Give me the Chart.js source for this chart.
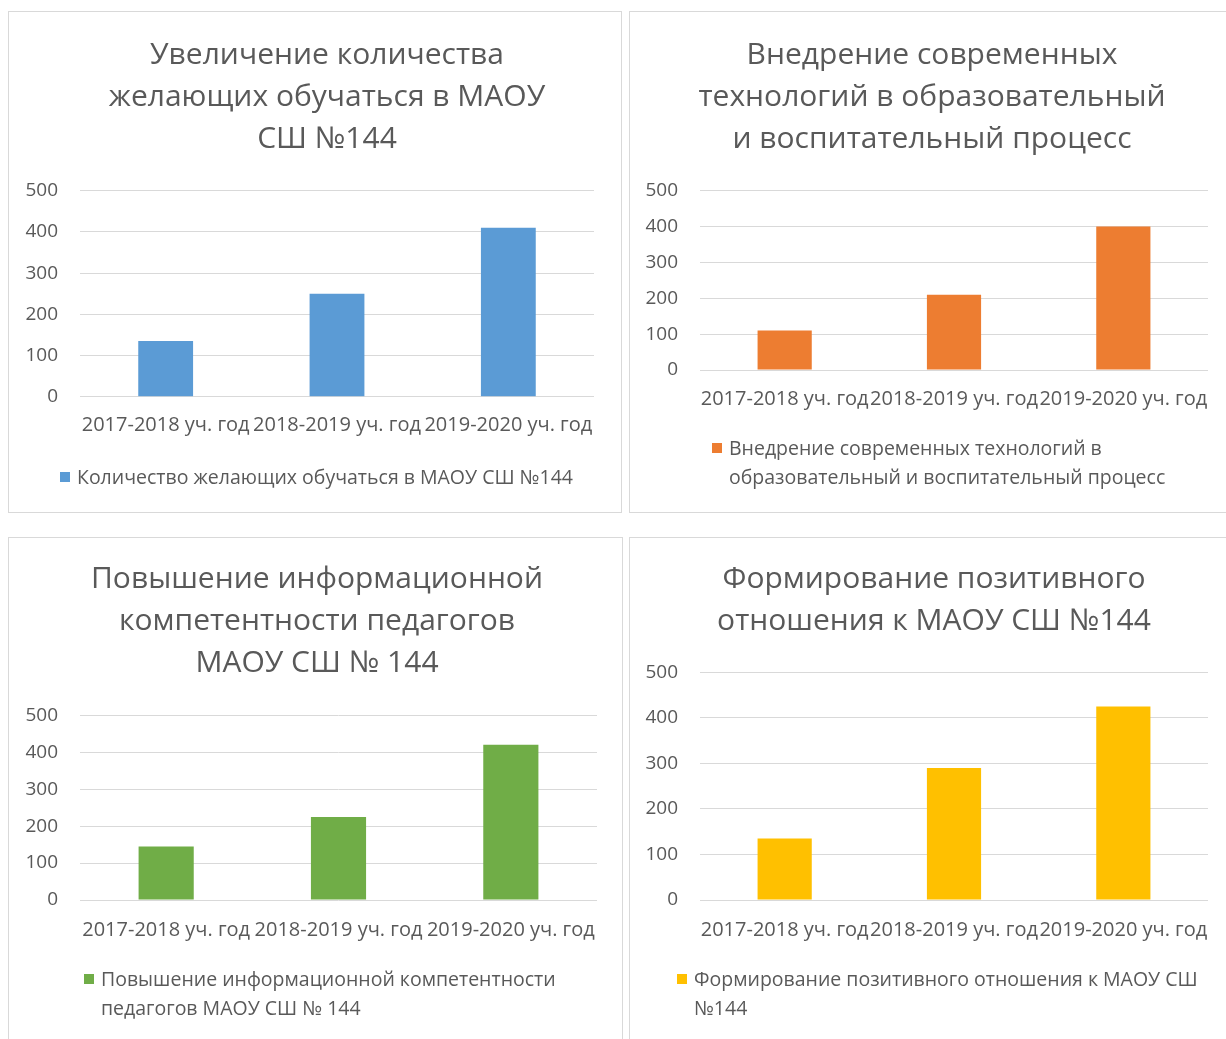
<!DOCTYPE html>
<html lang="ru">
<head>
<meta charset="UTF-8">
<title>МАОУ СШ №144</title>
<script src="https://cdn.jsdelivr.net/npm/chart.js"></script>
<style>
    body {
        margin: 0;
        width: 1226px;
        height: 1039px;
        overflow: hidden;
        position: relative;
        background: #fff;
        font-family: 'Open Sans', sans-serif;
    }
    .panel {
        position: absolute;
        box-sizing: border-box;
        border: 1px solid #d9d9d9;
        background: #fff;
        overflow: hidden;
    }
    .panel canvas {
        position: absolute;
        left: 0;
        top: 0;
    }
    .legend {
        position: absolute;
        display: flex;
        align-items: flex-start;
        font-family: 'Open Sans', sans-serif;
        font-size: 19.5px;
        line-height: 29px;
        color: #595959;
        white-space: nowrap;
    }
    .legend .box {
        flex: none;
        width: 10px;
        height: 10px;
        margin-top: 10px;
        margin-right: 7px;
    }
</style>
</head>
<body>
<div class="panel" style="left:8px;top:11px;width:614px;height:502px">
    <canvas id="c1"></canvas><div class="legend" id="l1"></div>
</div>
<div class="panel" style="left:629px;top:11px;width:610px;height:502px">
    <canvas id="c2"></canvas><div class="legend" id="l2"></div>
</div>
<div class="panel" style="left:8px;top:537px;width:615px;height:512px">
    <canvas id="c3"></canvas><div class="legend" id="l3"></div>
</div>
<div class="panel" style="left:629px;top:537px;width:610px;height:512px">
    <canvas id="c4"></canvas><div class="legend" id="l4"></div>
</div>

<script>
    // данные
    const categories = ['2017-2018 уч. год', '2018-2019 уч. год', '2019-2020 уч. год'];
    const yTicks = [0, 100, 200, 300, 400, 500];

    const studentsValues = [135, 250, 410];
    const technologyValues = [110, 210, 400];
    const competenceValues = [145, 225, 420];
    const attitudeValues = [135, 290, 425];

    const studentsTitle = ['Увеличение количества', 'желающих обучаться в МАОУ', 'СШ №144'];
    const technologyTitle = ['Внедрение современных', 'технологий в образовательный', 'и воспитательный процесс'];
    const competenceTitle = ['Повышение информационной', 'компетентности педагогов', 'МАОУ СШ № 144'];
    const attitudeTitle = ['Формирование позитивного', 'отношения к МАОУ СШ №144'];

    const studentsLegend = ['Количество желающих обучаться в МАОУ СШ №144'];
    const technologyLegend = ['Внедрение современных технологий в', 'образовательный и воспитательный процесс'];
    const competenceLegend = ['Повышение информационной компетентности', 'педагогов МАОУ СШ № 144'];
    const attitudeLegend = ['Формирование позитивного отношения к МАОУ СШ', '№144'];

    const textColor = '#595959';
    const gridColor = '#d9d9d9';
    const FONT = "'Open Sans', sans-serif";

    // легенда в HTML, чтобы текст переносился как в Excel
    function buildLegend(chart, id, lines, g) {
        const el = document.getElementById(id);
        const item = Chart.defaults.plugins.legend.labels.generateLabels(chart)[0];
        el.style.left = g.legendX + 'px';
        el.style.top = (g.legendY - 14.5) + 'px';
        const box = document.createElement('span');
        box.className = 'box';
        box.style.background = item.fillStyle;
        const text = document.createElement('span');
        lines.forEach((line, i) => {
            if (i > 0) text.appendChild(document.createElement('br'));
            text.appendChild(document.createTextNode(line));
        });
        el.appendChild(box);
        el.appendChild(text);
    }

    function makeChart(id, legendId, w, h, g, title, legend, values, color) {
        const canvas = document.getElementById(id);
        canvas.style.width = w + 'px';
        canvas.style.height = h + 'px';
        canvas.width = w;
        canvas.height = h;

        const xHeight = 60;

        const chart = new Chart(canvas, {
            type: 'bar',
            data: {
                labels: categories,
                datasets: [{
                    label: legend.join(' '),
                    data: values,
                    backgroundColor: color,
                    borderWidth: 0,
                    categoryPercentage: 1,
                    barPercentage: 0.32
                }]
            },
            options: {
                responsive: false,
                animation: false,
                events: [],
                layout: {
                    padding: { left: g.padL, right: g.padR, top: 0, bottom: h - g.bottom - xHeight }
                },
                scales: {
                    x: {
                        grid: { display: false, drawTicks: false },
                        border: { display: false },
                        ticks: {
                            autoSkip: false,
                            maxRotation: 0,
                            minRotation: 0,
                            padding: g.xPad,
                            color: textColor,
                            font: { family: FONT, size: 20 }
                        },
                        afterFit: s => {
                            s.height = xHeight;
                            s.paddingLeft = 0;
                            s.paddingRight = w - g.right;
                        }
                    },
                    y: {
                        min: 0,
                        max: 500,
                        grid: { color: gridColor, lineWidth: 1, drawTicks: false },
                        border: { display: false },
                        ticks: {
                            padding: 22,
                            color: textColor,
                            font: { family: FONT, size: 19 }
                        },
                        afterBuildTicks: s => {
                            s.ticks = yTicks.map(v => ({ value: v }));
                        },
                        afterFit: s => {
                            s.width = g.left - g.padL;
                            s.paddingTop = 0;
                            s.paddingBottom = 0;
                        }
                    }
                },
                plugins: {
                    tooltip: { enabled: false },
                    legend: { display: false },
                    title: {
                        display: true,
                        text: title,
                        color: textColor,
                        font: { family: FONT, size: 30, weight: 'normal', lineHeight: 1.4 },
                        padding: { top: g.title - 21, bottom: g.top - (g.title - 21) - title.length * 42 }
                    }
                }
            }
        });
        buildLegend(chart, legendId, legend, g);
        return chart;
    }

    makeChart('c1', 'l1', 612, 500,
        { left: 71, right: 585, top: 178.7, bottom: 384.7, title: 43, xPad: 17, padL: 14, padR: -10, legendX: 51, legendY: 464 },
        studentsTitle, studentsLegend, studentsValues, '#5b9bd5');
    makeChart('c2', 'l2', 596, 500,
        { left: 70, right: 578, top: 178.7, bottom: 358, title: 43, xPad: 17, padL: 10, padR: 2, legendX: 82, legendY: 435 },
        technologyTitle, technologyLegend, technologyValues, '#ed7d31');
    makeChart('c3', 'l3', 613, 501,
        { left: 71, right: 588, top: 177.3, bottom: 362, title: 41, xPad: 18, padL: 10, padR: 7, legendX: 75, legendY: 440 },
        competenceTitle, competenceLegend, competenceValues, '#70ad47');
    makeChart('c4', 'l4', 596, 501,
        { left: 70, right: 578, top: 134.3, bottom: 362, title: 41, xPad: 18, padL: 12, padR: 0, legendX: 47, legendY: 440 },
        attitudeTitle, attitudeLegend, attitudeValues, '#ffc000');
</script>
</body>
</html>
